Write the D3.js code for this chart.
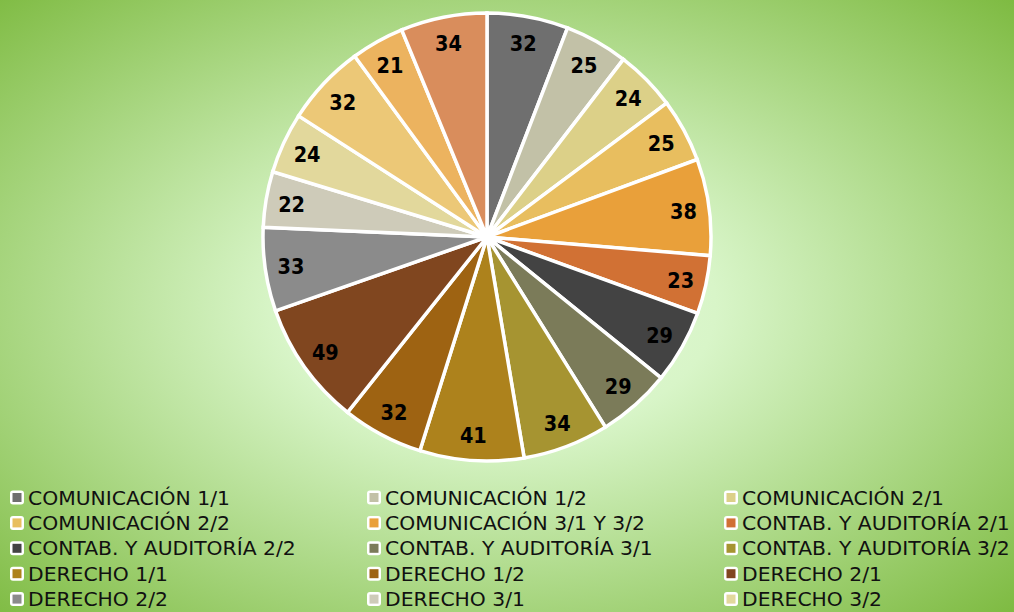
<!DOCTYPE html>
<html>
<head>
<meta charset="utf-8">
<script src="https://cdn.jsdelivr.net/npm/d3@7"></script>
<style>
  html, body { margin: 0; padding: 0; overflow: hidden; }
  svg { display: block; }
  .slice { stroke: #fff; stroke-width: 3.5; }
  .data-label { font-family: "DejaVu Sans", sans-serif; font-weight: bold; font-size: 21px; fill: #000; }
  .legend-text { font-family: "DejaVu Sans", sans-serif; font-size: 19px; fill: #111; }
</style>
</head>
<body>
<svg id="chart" width="1014" height="612"></svg>
<script>
/* pie of groups (last three legend rows are cut off) */

const categories = [
  "COMUNICACIÓN 1/1", "COMUNICACIÓN 1/2", "COMUNICACIÓN 2/1",
  "COMUNICACIÓN 2/2", "COMUNICACIÓN 3/1 Y 3/2", "CONTAB. Y AUDITORÍA 2/1",
  "CONTAB. Y AUDITORÍA 2/2", "CONTAB. Y AUDITORÍA 3/1", "CONTAB. Y AUDITORÍA 3/2",
  "DERECHO 1/1", "DERECHO 1/2", "DERECHO 2/1",
  "DERECHO 2/2", "DERECHO 3/1", "DERECHO 3/2",
  "DERECHO 4/1", "DERECHO 4/2", "DERECHO 5/1"
];

const values = [32, 25, 24, 25, 38, 23, 29, 29, 34, 41, 32, 49, 33, 22, 24, 32, 21, 34];

const colors = [
  "#6f6f6f", "#c2c1a7", "#dcd088", "#e8be5f", "#e9a03a", "#d17134",
  "#434343", "#7b7b59", "#a69431", "#ad821c", "#9e6312", "#80461f",
  "#8b8b8b", "#cecbb9", "#e2d89c", "#ecc877", "#ecb35f", "#d98d5c"
];

const W = 1014, H = 612;
const CX = 487, CY = 237, R = 224;

const svg = d3.select("#chart");

/* background radial gradient */
const defs = svg.append("defs");
const grad = defs.append("radialGradient")
  .attr("id", "bg")
  .attr("cx", "0.49").attr("cy", "0.5")
  .attr("r", "0.72");
grad.append("stop").attr("offset", "0").attr("stop-color", "#e6fbdc");
grad.append("stop").attr("offset", "0.3").attr("stop-color", "#d8f5c8");
grad.append("stop").attr("offset", "1").attr("stop-color", "#7dba40");

svg.append("rect")
  .attr("width", W).attr("height", H)
  .attr("fill", "url(#bg)");

/* pie */
const pie = d3.pie().sort(null).value(d => d);
const arcs = pie(values);

const arc = d3.arc().innerRadius(0).outerRadius(R);
const labelArc = d3.arc().innerRadius(R * 0.885).outerRadius(R * 0.885);

const g = svg.append("g").attr("transform", `translate(${CX},${CY})`);

g.selectAll("path.slice")
  .data(arcs)
  .join("path")
  .attr("class", "slice")
  .attr("d", arc)
  .attr("fill", (d, i) => colors[i]);

g.selectAll("text.data-label")
  .data(arcs)
  .join("text")
  .attr("class", "data-label")
  .attr("transform", d => `translate(${labelArc.centroid(d)}) scale(0.92,1)`)
  .attr("text-anchor", "middle")
  .attr("dy", "0.4em")
  .text(d => d.data);

/* legend: 3 columns; only rows that fit on the canvas are drawn */
const colX = d3.scaleOrdinal().domain([0, 1, 2]).range([10, 367, 724]);
const rowY = d3.scaleLinear().domain([0, 1]).range([497.5, 522.9]);

const shown = categories
  .map((name, i) => ({ name, i }))
  .filter(d => rowY(Math.floor(d.i / 3)) < H);

const legend = svg.append("g");
const items = legend.selectAll("g.item")
  .data(shown)
  .join("g")
  .attr("class", "item")
  .attr("transform", d => `translate(${colX(d.i % 3)},${rowY(Math.floor(d.i / 3))})`);

items.append("rect")
  .attr("x", 0).attr("y", -7)
  .attr("width", 14).attr("height", 14)
  .attr("rx", 3)
  .attr("fill", "#fff");

items.append("rect")
  .attr("x", 2.5).attr("y", -4.5)
  .attr("width", 9).attr("height", 9)
  .attr("fill", d => colors[d.i]);

items.append("text")
  .attr("class", "legend-text")
  .attr("transform", "translate(18,7) scale(1.07,1)")
  .text(d => d.name);
</script>
</body>
</html>
